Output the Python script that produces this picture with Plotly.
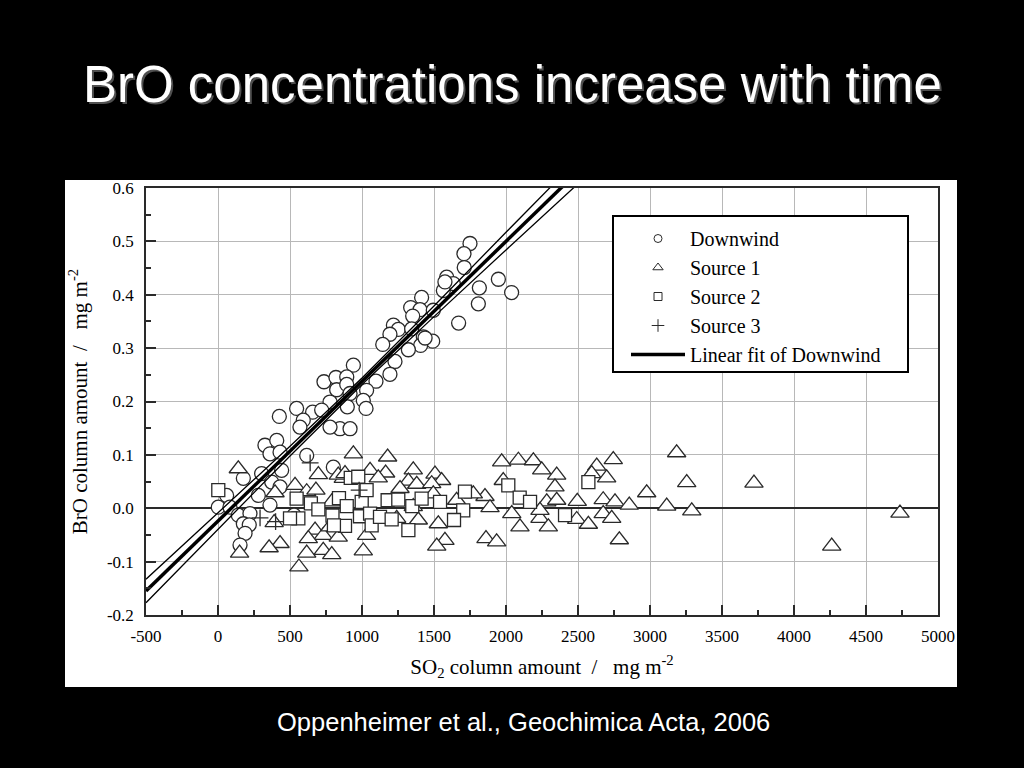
import plotly.graph_objects as go

# ---------------- data ----------------
downwind_x = [1750, 1708, 1710, 1588, 1634, 1565, 1815, 1947, 2039, 1808, 1671, 1414, 1338, 1403,
              1352, 1495, 1218, 1252, 1194, 1345, 1426, 1491, 1407, 1322, 1144, 1229, 1194, 1097,
              940, 1032, 1009, 1028, 736, 819, 894, 824, 894, 917, 778, 898, 546, 657, 720, 426,
              592, 847, 917, 569, 778, 1576, 1438, 326, 408, 361, 616, 303, 176, 442, 373, 431,
              60, 2, 83, 280, 361, 141, 222, 176, 217, 188, 153, 528, 801, 431]
downwind_y = [0.496, 0.477, 0.451, 0.433, 0.421, 0.408, 0.413, 0.429, 0.404, 0.383, 0.347, 0.395,
              0.376, 0.372, 0.360, 0.371, 0.343, 0.335, 0.326, 0.336, 0.321, 0.313, 0.305, 0.297,
              0.307, 0.275, 0.251, 0.238, 0.268, 0.221, 0.202, 0.187, 0.237, 0.245, 0.246, 0.222,
              0.232, 0.215, 0.199, 0.190, 0.187, 0.180, 0.184, 0.172, 0.165, 0.149, 0.149, 0.152,
              0.152, 0.424, 0.319, 0.118, 0.127, 0.102, 0.099, 0.065, 0.056, 0.071, 0.049, 0.040,
              0.024, 0.002, 0.002, 0.024, 0.006, -0.013, -0.010, -0.029, -0.031, -0.047, -0.069,
              -0.013, 0.077, 0.105]

source1_x = [141, 697, 535, 396, 616, 680, 390, 674, 731, 431, 355, 627, 616, 150, 562, 731, 790,
             940, 870, 1178, 1056, 1164, 1113, 1356, 1322, 1380, 1264, 1507, 1553, 1484, 835, 882,
             790, 778, 835, 1032, 1009, 1530, 1576, 1519, 1495, 1241, 1391, 1356, 1970, 2086, 2190,
             2248, 2352, 2340, 1981, 1854, 1773, 1889, 2040, 2097, 2236, 2294, 2283, 2352, 2236,
             2495, 1861, 1935, 1657, 2745, 2630, 2595, 2699, 2675, 2757, 2856, 2977, 3116, 3185,
             3255, 3290, 2491, 2572, 2675, 2734, 2787, 3722, 4262, 4736]
source1_y = [0.074, 0.063, 0.043, 0.029, 0.031, 0.034, -0.027, -0.041, -0.051, -0.066, -0.074,
             -0.057, -0.084, -0.084, -0.110, -0.079, -0.087, 0.102, 0.056, 0.096, 0.071, 0.066,
             0.057, 0.072, 0.051, 0.045, 0.037, 0.064, 0.052, 0.046, 0.062, 0.065, 0.012, -0.035,
             -0.054, -0.051, -0.080, -0.029, -0.060, -0.071, 0.027, -0.019, -0.022, 0.003, 0.087,
             0.090, 0.089, 0.072, 0.062, 0.040, 0.052, 0.022, 0.027, 0.001, -0.010, -0.035, -0.019,
             -0.035, 0.012, 0.015, -0.004, 0.013, -0.057, -0.063, 0.015, 0.091, 0.079, 0.065,
             0.057, 0.016, 0.012, 0.006, 0.029, 0.004, 0.104, 0.048, -0.005, -0.021, -0.030,
             -0.010, -0.019, -0.059, 0.047, -0.071, -0.009]

source2_x = [2, 546, 558, 500, 645, 697, 795, 840, 882, 805, 922, 894, 974, 986, 998, 1032, 1056,
             1067, 1125, 1178, 1206, 1252, 1322, 1349, 1414, 1542, 1715, 1703, 1639, 2016, 2095,
             2167, 2410, 2572]
source2_y = [0.034, 0.018, -0.019, -0.019, 0.009, -0.002, -0.014, 0.019, -0.033, -0.032, 0.057,
             0.004, 0.059, -0.015, 0.012, 0.034, -0.010, -0.032, -0.016, 0.015, -0.021, 0.016,
             -0.041, 0.004, 0.018, 0.012, 0.031, -0.004, -0.022, 0.043, 0.020, 0.012, -0.013,
             0.049]

source3_x = [640, 292, 400, 980]
source3_y = [0.085, -0.018, -0.025, 0.034]

# linear fit of Downwind with its confidence band
fit_x = [-500, 0, 500, 1000, 1500, 2000, 2500]
fit_y = [-0.155, -0.024, 0.107, 0.238, 0.369, 0.500, 0.631]
band_upper = [-0.133, -0.009, 0.116, 0.244, 0.379, 0.517, 0.654]
band_lower = [-0.177, -0.039, 0.098, 0.232, 0.359, 0.484, 0.608]

x_tickvals = [-500, 0, 500, 1000, 1500, 2000, 2500, 3000, 3500, 4000, 4500, 5000]
x_ticktext = ["-500", "0", "500", "1000", "1500", "2000", "2500", "3000", "3500", "4000", "4500", "5000"]
y_tickvals = [-0.2, -0.1, 0.0, 0.1, 0.2, 0.3, 0.4, 0.5, 0.6]
y_ticktext = ["-0.2", "-0.1", "0.0", "0.1", "0.2", "0.3", "0.4", "0.5", "0.6"]

title_text = "BrO concentrations increase with time"
caption_text = "Oppenheimer et al., Geochimica Acta, 2006"

# ---------------- figure ----------------
SERIF = "Liberation Serif, Times New Roman, serif"
SANS = "Liberation Sans, Arial, sans-serif"
EDGE = "#2a2a2a"

fig = go.Figure()

def open_marker(symbol, size):
    return dict(symbol=symbol, size=size, color="white", line=dict(color=EDGE, width=1.3))

fig.add_trace(go.Scatter(x=downwind_x, y=downwind_y, mode="markers", name="Downwind",
                         marker=open_marker("circle", 14), showlegend=False))
fig.add_trace(go.Scatter(x=source1_x, y=source1_y, mode="markers", name="Source 1",
                         marker=open_marker("triangle-up", 16), showlegend=False))
fig.add_trace(go.Scatter(x=source2_x, y=source2_y, mode="markers", name="Source 2",
                         marker=open_marker("square", 13), showlegend=False))
fig.add_trace(go.Scatter(x=source3_x, y=source3_y, mode="markers", name="Source 3",
                         marker=dict(symbol="cross-thin", size=12, line=dict(color=EDGE, width=1.3)),
                         showlegend=False))
fig.add_trace(go.Scatter(x=fit_x, y=band_upper, mode="lines", line=dict(color="black", width=1.3),
                         showlegend=False, hoverinfo="skip"))
fig.add_trace(go.Scatter(x=fit_x, y=band_lower, mode="lines", line=dict(color="black", width=1.3),
                         showlegend=False, hoverinfo="skip"))

# legend entries with small symbols (as in the original legend)
legend_font = dict(family=SERIF, size=20, color="black")
fig.add_trace(go.Scatter(x=[None], y=[None], mode="markers", name="Downwind",
                         marker=dict(symbol="circle-open", size=8, color=EDGE, line=dict(width=1))))
fig.add_trace(go.Scatter(x=[None], y=[None], mode="markers", name="Source 1",
                         marker=dict(symbol="triangle-up-open", size=9, color=EDGE, line=dict(width=1))))
fig.add_trace(go.Scatter(x=[None], y=[None], mode="markers", name="Source 2",
                         marker=dict(symbol="square-open", size=8, color=EDGE, line=dict(width=1))))
fig.add_trace(go.Scatter(x=[None], y=[None], mode="markers", name="Source 3",
                         marker=dict(symbol="cross-thin-open", size=9, color=EDGE, line=dict(width=1))))
fig.add_trace(go.Scatter(x=fit_x, y=fit_y, mode="lines", name="Linear fit of Downwind",
                         line=dict(color="black", width=3.5)))

axis_common = dict(
    showgrid=True, gridcolor="#b8b8b8", gridwidth=1,
    showline=True, linecolor=EDGE, linewidth=1.5, mirror=True,
    ticks="inside", ticklen=10, tickwidth=1.5, tickcolor=EDGE,
    tickfont=dict(family=SERIF, size=17, color="black"),
)

fig.update_xaxes(range=[-500, 5000], tickmode="array", tickvals=x_tickvals, ticktext=x_ticktext,
                 zeroline=False,
                 minor=dict(ticks="inside", ticklen=5, tickwidth=1.5, tickcolor=EDGE, dtick=250,
                            showgrid=False),
                 title=dict(text="SO<sub>2</sub> column amount \u00a0/ \u00a0 mg m<sup>-2</sup>",
                            font=dict(family=SERIF, size=21, color="black"), standoff=14),
                 ticklabelstandoff=5, **axis_common)
fig.update_yaxes(range=[-0.2, 0.6], tickmode="array", tickvals=y_tickvals, ticktext=y_ticktext,
                 zeroline=True, zerolinecolor=EDGE, zerolinewidth=1.5,
                 minor=dict(ticks="inside", ticklen=5, tickwidth=1.5, tickcolor=EDGE, dtick=0.05,
                            showgrid=False),
                 title=dict(text="BrO column amount \u00a0/ \u00a0 mg m<sup>-2</sup>",
                            font=dict(family=SERIF, size=21, color="black"), standoff=14),
                 ticklabelstandoff=7, **axis_common)

L, R, T, B = 146, 86, 188, 153
W, H = 1024, 768
pw, ph = W - L - R, H - T - B

def px_to_paper_x(px):
    return (px - L) / pw

def px_to_paper_y(py):
    return (H - B - py) / ph

shapes = [
    # white figure panel
    dict(type="rect", xref="paper", yref="paper", layer="below",
         x0=px_to_paper_x(65), x1=px_to_paper_x(957), y0=px_to_paper_y(687), y1=px_to_paper_y(180),
         fillcolor="white", line=dict(width=0)),
    # legend box
    dict(type="rect", xref="paper", yref="paper", layer="above",
         x0=px_to_paper_x(613), x1=px_to_paper_x(908), y0=px_to_paper_y(372), y1=px_to_paper_y(216),
         fillcolor="white", line=dict(color="black", width=2)),
]

annotations = [
    dict(text=title_text, xref="paper", yref="paper", x=px_to_paper_x(512), y=px_to_paper_y(85),
         xanchor="center", yanchor="middle", showarrow=False, xshift=2, yshift=-2,
         font=dict(family=SANS, size=51, color="#505050")),
    dict(text=title_text, xref="paper", yref="paper", x=px_to_paper_x(512), y=px_to_paper_y(85),
         xanchor="center", yanchor="middle", showarrow=False,
         font=dict(family=SANS, size=51, color="white")),
    dict(text=caption_text, xref="paper", yref="paper", x=px_to_paper_x(523), y=px_to_paper_y(722),
         xanchor="center", yanchor="middle", showarrow=False,
         font=dict(family=SANS, size=25.5, color="white")),
]

fig.update_layout(
    width=W, height=H,
    margin=dict(l=L, r=R, t=T, b=B, autoexpand=False),
    paper_bgcolor="black", plot_bgcolor="white",
    shapes=shapes, annotations=annotations,
    showlegend=True,
    legend=dict(x=px_to_paper_x(626), y=px_to_paper_y(219), xanchor="left", yanchor="top",
                bgcolor="rgba(0,0,0,0)", borderwidth=0, font=legend_font,
                itemwidth=54, traceorder="normal"),
)

fig.write_html("out.html", config={"displayModeBar": False},
               post_script="document.body.style.margin='0px';document.body.style.backgroundColor='black';")
